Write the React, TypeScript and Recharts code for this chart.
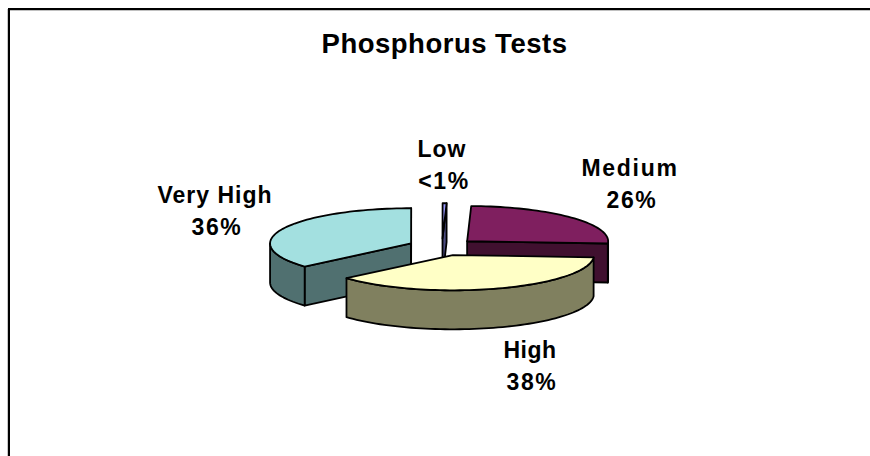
import React from "react";
import { PieChart, Pie } from "recharts";

const titleText = "Phosphorus Tests";
const categories = ["Very High", "Low", "Medium", "High"];
const shares = [36.4, 0.45, 25.55, 37.6];
const shareLabels = ["36%", "<1%", "26%", "38%"];

const tableData = categories.map((name, i) => ({ name, value: shares[i], label: shareLabels[i] }));

const W = 870, H = 456;
const CX = 442, CY = 247;
const RX = 141;
const TILT = 0.25;
const DEPTH = 39;
const EXPLODE = 34;
const FONT = "'Liberation Sans', Arial, sans-serif";

const topColors: Record<string, string> = { "Very High": "#a3e0e0", Low: "#9999ff", Medium: "#7f1f5f", High: "#ffffc6" };
const sideColors: Record<string, string> = { "Very High": "#507070", Low: "#4c4c80", Medium: "#40102f", High: "#80805f" };
const labelPos: Record<string, [number, number]> = {
  "Very High": [215, 203],
  Low: [442, 157],
  Medium: [630, 176],
  High: [530, 358],
};
const labelSpacing: Record<string, number> = { "Very High": 1, Low: 1, Medium: 1.7, High: 0.5 };

const rad = (d: number) => (d * Math.PI) / 180;

function Slice3D(props: any) {
  const { cx, cy, outerRadius, startAngle, endAngle, payload, name } = props;
  const key = payload?.name ?? name;
  // Recharts angles are counter-clockwise from 3 o'clock; convert to clockwise from 12 o'clock.
  const a = [90 - startAngle, 90 - endAngle];
  let a0 = Math.min(a[0], a[1]);
  let a1 = Math.max(a[0], a[1]);
  while (a0 < 0) { a0 += 360; a1 += 360; }
  const mid = (a0 + a1) / 2;
  const ox = cx + EXPLODE * Math.sin(rad(mid));
  const oy = cy - EXPLODE * TILT * Math.cos(rad(mid));
  const ry = outerRadius * TILT;
  const pt = (deg: number, dz = 0): [number, number] => [
    ox + outerRadius * Math.sin(rad(deg)),
    oy - ry * Math.cos(rad(deg)) + dz,
  ];
  const arc = (from: number, to: number, dz = 0) => {
    const parts: string[] = [];
    const steps = Math.max(2, Math.ceil(Math.abs(to - from) / 2));
    for (let i = 0; i <= steps; i++) {
      const p = pt(from + ((to - from) * i) / steps, dz);
      parts.push(`${p[0].toFixed(2)},${p[1].toFixed(2)}`);
    }
    return parts;
  };
  const stroke = { stroke: "#000", strokeWidth: 1.8, strokeLinejoin: "round" as const };
  const walls: React.ReactNode[] = [];
  const face = (deg: number, k: string) => {
    const p = pt(deg);
    walls.push(
      <polygon key={k} fill={sideColors[key]} {...stroke}
        points={`${ox},${oy} ${p[0]},${p[1]} ${p[0]},${p[1] + DEPTH} ${ox},${oy + DEPTH}`} />
    );
  };
  if (Math.sin(rad(a0)) < 1e-6) face(a0, "start");
  if (Math.sin(rad(a1)) > 1e-6) face(a1, "end");
  const r0 = Math.max(a0, 90), r1 = Math.min(a1, 270);
  if (r1 > r0) {
    walls.push(
      <polygon key="rim" fill={sideColors[key]} {...stroke}
        points={[...arc(r0, r1), ...arc(r1, r0, DEPTH)].join(" ")} />
    );
  }
  return (
    <g>
      {walls}
      <polygon fill={topColors[key]} {...stroke}
        points={[`${ox},${oy}`, ...arc(a0, a1)].join(" ")} />
    </g>
  );
}

function SliceLabel(props: any) {
  const key = props.payload?.name ?? props.name;
  const [x, y] = labelPos[key];
  const common = { textAnchor: "middle" as const, fontFamily: FONT, fontWeight: 700, fontSize: 23, fill: "#000" };
  return (
    <g>
      <text {...common} x={x} y={y} letterSpacing={labelSpacing[key]}>{key}</text>
      <text {...common} x={x + 2} y={y + 32} letterSpacing={1.6}>{props.payload?.label}</text>
    </g>
  );
}

export default function App() {
  return (
    <div style={{ position: "absolute", left: 0, top: 0, width: W, height: H, background: "#fff" }}>
      <div style={{ position: "absolute", left: 8, top: 8, right: 0, height: 2, background: "#000", boxShadow: "0 1px 0 #c0c0c0" }} />
      <div style={{ position: "absolute", left: 8, top: 8, bottom: 0, width: 2, background: "#000" }} />
      <div style={{ position: "absolute", left: 7, top: 9, bottom: 0, width: 1, background: "#c8c8c8" }} />
      <PieChart width={W} height={H} margin={{ top: 0, right: 0, bottom: 0, left: 0 }} style={{ position: "absolute", left: 0, top: 0 }}>
        <text x={444.5} y={53} textAnchor="middle" fontFamily={FONT} fontWeight={700} fontSize={27.5} letterSpacing={0.5} fill="#000">
          {titleText}
        </text>
        <Pie
          data={tableData}
          dataKey="value"
          nameKey="name"
          cx={CX}
          cy={CY}
          innerRadius={0}
          outerRadius={RX}
          startAngle={221}
          endAngle={-139}
          paddingAngle={0}
          stroke="none"
          isAnimationActive={false}
          shape={Slice3D}
          label={SliceLabel}
          labelLine={false}
        />
      </PieChart>
    </div>
  );
}
